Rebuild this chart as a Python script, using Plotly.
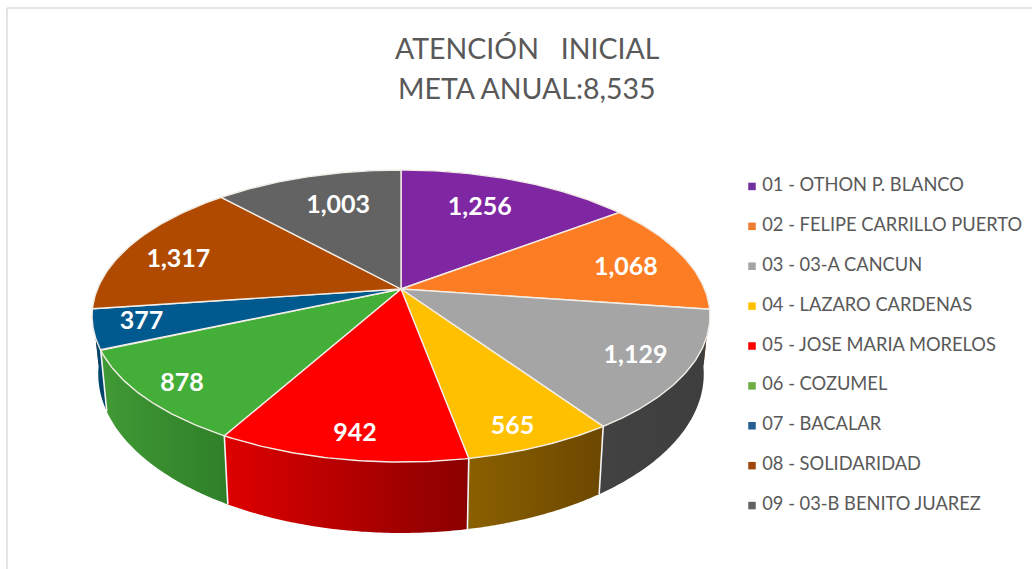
import numpy as np
import plotly.graph_objects as go

NAMES = ["01 - OTHON P. BLANCO", "02 - FELIPE CARRILLO PUERTO", "03 - 03-A CANCUN",
         "04 - LAZARO CARDENAS", "05 - JOSE MARIA MORELOS", "06 - COZUMEL",
         "07 - BACALAR", "08 - SOLIDARIDAD", "09 - 03-B BENITO JUAREZ"]
VALUES = [1256, 1068, 1129, 565, 942, 878, 377, 1317, 1003]
TOP_COLORS = ["#7F27A3", "#FD7D24", "#A5A5A5", "#FFC000", "#FF0000", "#43AF38", "#00598F", "#B04A00", "#636363"]
LEGEND_COLORS = ["#7030A0", "#ED7D31", "#A5A5A5", "#FFC000", "#FF0000", "#70AD47", "#255E91", "#9E480E", "#636363"]
WALL_LEFT = ["#4A1A60", "#8F4A1A", "#424242", "#8A6000", "#DE0000", "#409A35", "#004C7A", "#6A2D00", "#3A3A3A"]
WALL_RIGHT = ["#4A1A60", "#8F4A1A", "#3E3E3E", "#6C4700", "#8A0000", "#2F7F28", "#003F66", "#6A2D00", "#3A3A3A"]
LABEL_RADIUS = [0.70, 0.775, 0.835, 0.89, 0.875, 0.88, 0.85, 0.79, 0.69]
LABEL_TURN_DEG = [-2.0, 3.5, 0.0, 2.0, -1.0, -1.0, 0.0, -4.5, 1.5]
TITLE_LINES = ["ATENCIÓN\u00a0\u00a0 INICIAL", "META ANUAL:8,535"]

# Perspective model of the tilted disc, in page pixels
CX, CY, MX, KY, P = 401.0, 289.0, 303.6, 141.0, 0.185
BOTTOM_SCALE, BOTTOM_Y, BOTTOM_K = 0.98, 344.5, 153.6


def top_xy(r, a):
    X, Z = r * np.sin(a), r * np.cos(a)
    d = 1 + P * Z
    return CX + MX * X / d, CY - KY * Z / d


def bottom_xy(a):
    X, Z = np.sin(a), np.cos(a)
    d = 1 + P * Z
    return CX + BOTTOM_SCALE * MX * X / d, BOTTOM_Y - BOTTOM_K * Z / d


total = sum(VALUES)
edges = np.concatenate([[0], np.cumsum(VALUES)]) / total * 2 * np.pi
mids = (edges[:-1] + edges[1:]) / 2
fig = go.Figure()

# Side walls, back slices first so the front ones cover them
for i in np.argsort(-np.cos(mids)):
    a = np.linspace(edges[i], edges[i + 1], 70)
    xt, yt = top_xy(1.0, a)
    xb, yb = bottom_xy(a)
    fig.add_trace(go.Scatter(
        x=np.concatenate([xt, xb[::-1]]), y=np.concatenate([yt, yb[::-1]]),
        fill="toself", mode="none", hoverinfo="skip", showlegend=False,
        fillgradient=dict(type="horizontal", colorscale=[[0, WALL_LEFT[i]], [1, WALL_RIGHT[i]]]),
    ))

# White seams between the visible walls
for e in edges:
    if 0.6 * np.pi < e < 1.4 * np.pi:
        x0, y0 = top_xy(1.0, e)
        x1, y1 = bottom_xy(e)
        fig.add_trace(go.Scatter(x=[x0, x1], y=[y0, y1], mode="lines", hoverinfo="skip", showlegend=False,
                                 line=dict(color="#F4F4F4", width=1.6)))

# Top faces
for i in range(len(VALUES)):
    a = np.linspace(edges[i], edges[i + 1], 70)
    xt, yt = top_xy(1.0, a)
    fig.add_trace(go.Scatter(
        x=np.concatenate([[CX], xt, [CX]]), y=np.concatenate([[CY], yt, [CY]]),
        fill="toself", fillcolor=TOP_COLORS[i], mode="lines", name=NAMES[i],
        line=dict(color="#F2EDE6", width=1.4), showlegend=False,
    ))

# Data labels
lx, ly = top_xy(np.array(LABEL_RADIUS), mids + np.radians(LABEL_TURN_DEG))
fig.add_trace(go.Scatter(
    x=lx, y=ly, mode="text", text=[f"{v:,}" for v in VALUES], textposition="middle center",
    textfont=dict(family="Lato", size=25, color="white", weight="bold"),
    hoverinfo="skip", showlegend=False,
))

# Legend column on its own small axes
fig.add_trace(go.Scatter(
    x=[0] * len(NAMES), y=NAMES, xaxis="x2", yaxis="y2", mode="markers+text",
    text=["\u2009\u2009" + n for n in NAMES], textposition="middle right",
    textfont=dict(family="Lato", size=18.3, color="#595959"),
    marker=dict(symbol="square", size=7.5, color=LEGEND_COLORS),
    cliponaxis=False, hoverinfo="skip", showlegend=False,
))

W, H = 1032, 569
title_font = dict(family="Lato", size=28.5, color="#595959")
fig.update_layout(
    width=W, height=H, autosize=False, margin=dict(l=0, r=0, t=0, b=0),
    paper_bgcolor="white", plot_bgcolor="white", showlegend=False,
    annotations=[
        dict(text=TITLE_LINES[0], xref="x", yref="y", x=527, y=48, showarrow=False, font=title_font,
             xanchor="center", yanchor="middle"),
        dict(text=TITLE_LINES[1], xref="x", yref="y", x=527, y=88, showarrow=False, font=title_font,
             xanchor="center", yanchor="middle"),
    ],
    xaxis=dict(range=[0, W], visible=False, fixedrange=True),
    yaxis=dict(range=[H, 0], visible=False, fixedrange=True),
    xaxis2=dict(domain=[752 / W, 1], range=[0, 1], visible=False, fixedrange=True, anchor="y2"),
    yaxis2=dict(domain=[(H - 525.5) / H, (H - 166.5) / H], type="category", categoryorder="array",
                categoryarray=NAMES, autorange=False, range=[8.5, -0.5], visible=False, fixedrange=True, anchor="x2"),
    shapes=[
        dict(type="line", xref="x", yref="y", x0=7, x1=7, y0=8, y1=H, line=dict(color="#DDDDDD", width=1.5), layer="below"),
        dict(type="line", xref="x", yref="y", x0=7, x1=W, y0=8, y1=8, line=dict(color="#DDDDDD", width=1.5), layer="below"),
    ],
)
fig.write_html("out.html", config={"displayModeBar": False}, post_script="document.body.style.margin='0';")
